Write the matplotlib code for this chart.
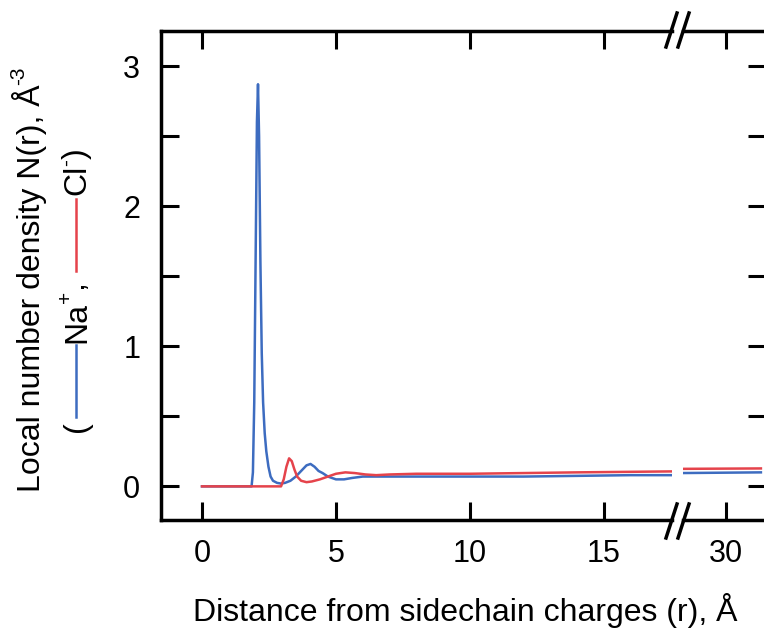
import matplotlib
matplotlib.use("Agg")
import matplotlib.pyplot as plt
from matplotlib.lines import Line2D

plt.rcParams['font.family'] = ['Liberation Sans', 'DejaVu Sans']

# ---------------------- DATA ----------------------
# Na+ local number density vs distance
r_na = [0.0, 1.85, 1.90, 1.95, 2.00, 2.05, 2.09, 2.13, 2.18, 2.23, 2.28, 2.34,
        2.40, 2.48, 2.56, 2.65, 2.80, 2.95, 3.10, 3.30, 3.50, 3.70, 3.90, 4.05,
        4.20, 4.35, 4.50, 4.70, 5.00, 5.30, 5.60, 6.00, 7.0, 8.0, 10.0, 12.0,
        14.0, 16.0, 17.6, 28.3, 31.3]
n_na = [0.0, 0.0, 0.10, 0.60, 1.60, 2.60, 2.87, 2.50, 1.60, 0.95, 0.60, 0.38,
        0.25, 0.14, 0.07, 0.04, 0.025, 0.02, 0.025, 0.04, 0.07, 0.11, 0.15, 0.16,
        0.14, 0.11, 0.095, 0.07, 0.05, 0.05, 0.06, 0.07, 0.07, 0.07, 0.07, 0.07,
        0.075, 0.08, 0.08, 0.095, 0.10]

# Cl- local number density vs distance
r_cl = [0.0, 2.95, 3.05, 3.15, 3.25, 3.35, 3.45, 3.55, 3.70, 3.90, 4.10, 4.40,
        4.70, 5.00, 5.35, 5.70, 6.10, 6.50, 7.0, 8.0, 10.0, 12.0, 14.0, 17.6,
        28.3, 31.3]
n_cl = [0.0, 0.0, 0.05, 0.14, 0.20, 0.18, 0.12, 0.07, 0.04, 0.03, 0.035, 0.05,
        0.07, 0.09, 0.10, 0.095, 0.085, 0.08, 0.085, 0.09, 0.09, 0.095, 0.10, 0.107,
        0.125, 0.128]

x_ticks_left = [0, 5, 10, 15]
x_ticks_right = [30]
y_ticks = [0, 0.5, 1, 1.5, 2, 2.5, 3]
y_labels = ['0', '', '1', '', '2', '', '3']

BLUE = '#3d6cc0'
RED = '#e5434b'
FS = 23

# ---------------------- FIGURE ----------------------
W, H = 764, 628
fig = plt.figure(figsize=(W / 100, H / 100), dpi=100)


def box(x0, y0, x1, y1):
    # pixel box (top-left origin) -> figure fractions
    return [x0 / W, 1 - y1 / H, (x1 - x0) / W, (y1 - y0) / H]


ax1 = fig.add_axes(box(161, 31, 672, 520))
ax2 = fig.add_axes(box(683, 31, 766, 520))

for ax in (ax1, ax2):
    ax.plot(r_na, n_na, color=BLUE, lw=1.8)
    ax.plot(r_cl, n_cl, color=RED, lw=1.8)
    ax.set_ylim(-0.24, 3.25)
    for s in ax.spines.values():
        s.set_linewidth(2.5)
    ax.tick_params(direction='in', length=13, width=2.2, top=True,
                   labelsize=22, pad=14)

ax1.set_xlim(-1.53, 17.54)
ax1.set_xticks(x_ticks_left)
ax1.set_yticks(y_ticks)
ax1.set_yticklabels(y_labels)
ax1.spines['right'].set_visible(False)
ax1.tick_params(axis='y', right=False, pad=15)

ax2.set_xlim(28.40, 31.49)
ax2.set_xticks(x_ticks_right)
ax2.set_yticks(y_ticks)
ax2.spines['left'].set_visible(False)
ax2.tick_params(axis='y', left=False, right=True, labelleft=False)

# break marks
for yc in (30, 521):
    for x0, x1 in ((666, 677), (678, 689)):
        fig.add_artist(Line2D([x0 / W, x1 / W], [1 - (yc + 17) / H, 1 - (yc - 17) / H],
                              transform=fig.transFigure, color='k', lw=2.5))

# x label
fig.text(465 / W, 1 - 610 / H, 'Distance from sidechain charges (r), Å',
         ha='center', va='center', fontsize=FS)

# rotated y label, laid out piece by piece from the bottom up (pixel coords)
renderer = fig.canvas.get_renderer()


def vertical_row(x, y_start, pieces):
    y = y_start
    for kind, val, col in pieces:
        if kind == 'text':
            t = fig.text(x, y, val, ha='center', va='bottom', rotation=90,
                         fontsize=FS, transform=None)
            y = t.get_window_extent(renderer).y1
        elif kind == 'sup':
            t = fig.text(x - 11, y - 1, val, ha='center', va='bottom', rotation=90,
                         fontsize=15, transform=None)
            y = t.get_window_extent(renderer).y1
        elif kind == 'line':
            fig.add_artist(Line2D([x - 1, x - 1], [y + 2, y + 2 + val],
                                  transform=None, color=col, lw=1.8))
            y = y + 4 + val
        else:
            y = y + val


vertical_row(30, H - 492, [('text', 'Local number density N(r), Å', None),
                           ('sup', '-3', None)])
vertical_row(77, H - 432, [('text', '(', None), ('gap', 2, None),
                           ('line', 72, BLUE), ('text', 'Na', None),
                           ('sup', '+', None), ('text', ', ', None),
                           ('line', 72, RED), ('gap', 2, None), ('text', 'Cl', None),
                           ('sup', '-', None), ('text', ')', None)])

fig.savefig('out.png', dpi=100)
